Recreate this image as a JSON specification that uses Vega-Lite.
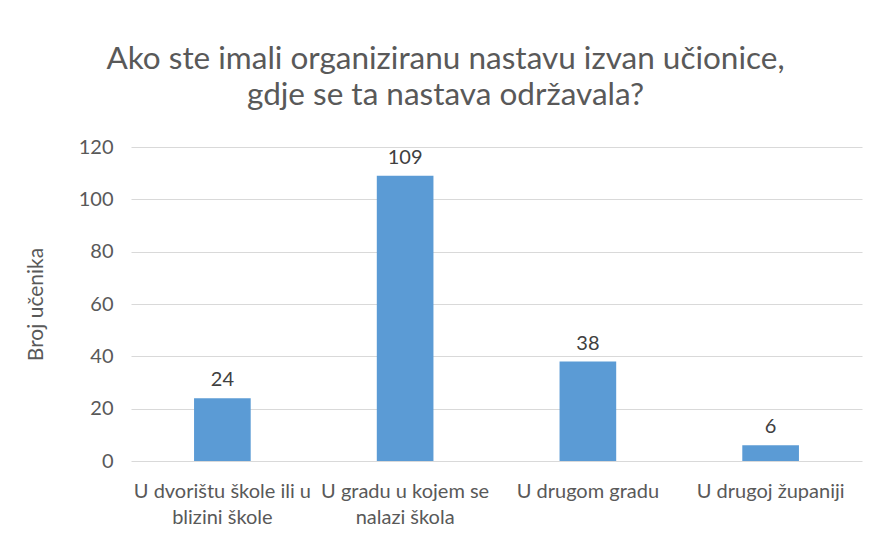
{
  "$schema": "https://vega.github.io/schema/vega-lite/v6.json",
  "autosize": "none",
  "width": 731,
  "height": 314,
  "padding": {"left": 131, "top": 147, "right": 14, "bottom": 77},
  "background": "white",
  "title": {
    "text": ["Ako ste imali organiziranu nastavu izvan učionice,", "gdje se ta nastava održavala?"],
    "font": "Lato",
    "fontSize": 31.5,
    "fontWeight": "normal",
    "color": "#595959",
    "anchor": "middle",
    "frame": "group",
    "dx": -51,
    "offset": 26,
    "lineHeight": 36
  },
  "data": {
    "values": [
      {"mjesto": "U dvorištu škole ili u blizini škole", "broj": 24},
      {"mjesto": "U gradu u kojem se nalazi škola", "broj": 109},
      {"mjesto": "U drugom gradu", "broj": 38},
      {"mjesto": "U drugoj županiji", "broj": 6}
    ]
  },
  "encoding": {
    "x": {
      "field": "mjesto",
      "type": "nominal",
      "sort": null,
      "scale": {"paddingInner": 0.69, "paddingOuter": 0.345},
      "axis": {
        "title": null,
        "labelAngle": 0,
        "labelFont": "Lato",
        "labelFontSize": 20,
        "labelColor": "#595959",
        "labelPadding": 36,
        "labelLineHeight": 26,
        "labelBaseline": "alphabetic",
        "ticks": false,
        "domain": false,
        "labelLimit": 300,
        "labelExpr": "datum.label == 'U dvorištu škole ili u blizini škole' ? ['U dvorištu škole ili u', 'blizini škole'] : datum.label == 'U gradu u kojem se nalazi škola' ? ['U gradu u kojem se', 'nalazi škola'] : datum.label"
      }
    },
    "y": {
      "field": "broj",
      "type": "quantitative",
      "scale": {"domain": [0, 120]},
      "axis": {
        "title": "Broj učenika",
        "titleFont": "Lato",
        "titleFontSize": 21,
        "titleFontWeight": "normal",
        "titleColor": "#595959",
        "titlePadding": 32,
        "values": [0, 20, 40, 60, 80, 100, 120],
        "labelFont": "Lato",
        "labelFontSize": 20,
        "labelColor": "#595959",
        "labelPadding": 18,
        "ticks": false,
        "domain": false,
        "gridColor": "#D9D9D9",
        "gridWidth": 1
      }
    }
  },
  "layer": [
    {"mark": {"type": "bar", "color": "#5B9BD5"}},
    {
      "mark": {"type": "text", "baseline": "bottom", "dy": -8, "font": "Lato", "fontSize": 20, "color": "#404040"},
      "encoding": {"text": {"field": "broj", "type": "quantitative"}}
    }
  ],
  "config": {"view": {"stroke": null}}
}
